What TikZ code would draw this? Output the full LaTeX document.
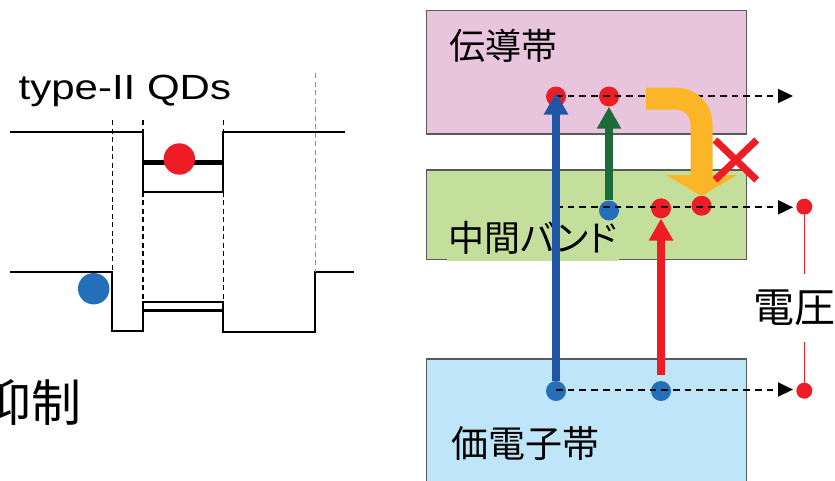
\documentclass[tikz,border=0pt]{standalone}
\usepackage{fontspec}
\setmainfont{Liberation Sans}
\newfontfamily\jp{Noto Sans CJK JP}
\newfontfamily\jpp[RawFeature=+palt]{Noto Sans CJK JP}
\usetikzlibrary{arrows.meta}
\definecolor{cbpink}{HTML}{E8C5DD}
\definecolor{ibgreen}{HTML}{C4DF9B}
\definecolor{vbblue}{HTML}{BEE6F8}
\definecolor{myred}{HTML}{EE1C25}
\definecolor{dotblue}{HTML}{2370B8}
\definecolor{arrblue}{HTML}{1F56A5}
\definecolor{arrgreen}{HTML}{1D6B38}
\definecolor{myorange}{HTML}{FBB526}
\definecolor{boxedge}{HTML}{5A5A5A}
\tikzset{
  bandline/.style={line width=2pt, line join=miter},
  guide/.style={line width=1.2pt, dash pattern=on 5pt off 3.5pt},
  bandbox/.style={draw=boxedge, line width=1.3pt, inner sep=0pt, anchor=north west, minimum width=320.3pt},
  ball/.style={circle, inner sep=0pt, minimum size=20pt},
  smallball/.style={circle, inner sep=0pt, minimum size=16pt, fill=myred},
  levelline/.style={dash pattern=on 6.7pt off 5pt, line width=2pt, -{Triangle[length=15pt,width=14pt]}},
  excite/.style={line width=7.5pt, -{Triangle[length=22pt,width=23pt]}},
  txt/.style={inner sep=0pt, anchor=base west},
}
\begin{document}
\begin{tikzpicture}[x=1pt,y=-1pt]
\useasboundingbox (0,0) rectangle (835,480);
\clip (0,0) rectangle (835,480);
\fill[white] (0,0) rectangle (835,480);

% ---------- left: type-II QD band diagram ----------
\node[txt, font=\fontsize{35}{35}\selectfont] (title) at (18.5,99.5) {\scalebox{1.2}[1]{type-II QDs}};

\draw[bandline] (10,131.7) -- (143,131.7) -- (143,191.7) -- (223.3,191.7) -- (223.3,131.7) -- (345,131.7);
\draw[line width=5pt] (143,162) -- (223.3,162);
\draw[bandline] (10,271.7) -- (112.3,271.7) -- (112.3,330.5) -- (143,330.5) -- (143,301.7)
   -- (223.3,301.7) -- (223.3,331.5) -- (315,331.5) -- (315,272.3) -- (354,272.3);
\draw[line width=3.5pt] (143,310.7) -- (223.3,310.7);

\draw[guide] (112.3,120) -- (112.3,271.7);
\draw[guide] (143,120) -- (143,131.7);
\draw[guide] (143,191.7) -- (143,301.7);
\draw[guide] (223.3,120) -- (223.3,131.7);
\draw[guide] (223.3,191.7) -- (223.3,301.7);
\draw[guide, black!45, line width=1pt] (315,73) -- (315,272.3);

\node[ball, fill=myred, minimum size=31.4pt] (qde) at (179.3,159) {};
\node[ball, fill=dotblue, minimum size=31.4pt] (qdh) at (93.7,288.7) {};

\node[txt, font=\jp\fontsize{50}{50}\selectfont] (sup) at (-19,421) {抑制};

% ---------- right: intermediate band scheme ----------
\node[bandbox, fill=cbpink, minimum height=123.3pt] (cb) at (425.7,10) {};
\node[bandbox, fill=ibgreen, minimum height=89.7pt] (ib) at (425.7,169.3) {};
\node[bandbox, fill=vbblue, minimum height=140pt] (vb) at (425.7,358.3) {};

\node[txt, font=\jp\fontsize{36}{36}\selectfont] (cbl) at (449.7,59.3) {伝導帯};
\node[txt, font=\jpp\fontsize{36}{36}\selectfont, fill=ibgreen, inner xsep=1.5pt,
      text height=31pt, text depth=10pt] (ibl) at (447,251) {中間バンド};
\node[txt, font=\jp\fontsize{37}{37}\selectfont] (vbl) at (451,457.3) {価電子帯};
\node[txt, font=\jp\fontsize{41}{41}\selectfont, inner ysep=16pt] (volt) at (753,322.7) {電圧};

% dots
\node[ball, fill=myred] (cb1) at (556,96.5) {};
\node[ball, fill=myred] (cb2) at (609,96.5) {};
\node[ball, fill=dotblue] (ib1) at (609,210.5) {};
\node[ball, fill=myred] (ib2) at (661,208.3) {};
\node[ball, fill=myred] (ib3) at (701.5,205.7) {};
\node[smallball] (ibr) at (804.3,206.7) {};
\node[ball, fill=dotblue] (vb1) at (556,391) {};
\node[ball, fill=dotblue] (vb2) at (661,391) {};
\node[smallball] (vbr) at (804.3,390.7) {};

\coordinate (cbend) at (793,96);
\coordinate (ibstart) at (556,207.3);
\coordinate (ibend) at (793,207.3);
\coordinate (vbend) at (793,389.5);

% dashed energy levels
\draw[levelline] (cb1.center |- cbend) -- (cbend);
\draw[levelline] (ibstart) -- (ibend);
\draw[levelline] (vb1.center |- vbend) -- (vbend);

% excitation arrows
\draw[excite, arrblue] (vb1.north) -- ([yshift=4pt]cb1.center);
\draw[excite, arrgreen] (ib1.north) -- (cb2.south);
\draw[excite, myred, shorten <=5.6pt] (vb2.north) -- (ib2.south);

% relaxation arrow (orange)
\coordinate (rs) at (646,98.7);
\coordinate (rc) at (701.5,98.7);
\coordinate (re) at (701.5,196);
\draw[myorange, line width=22pt, rounded corners=25pt, -{Triangle[length=21pt,width=70pt]}]
   (rs) -- (rc) -- (re);

% cross
\draw[myred, line width=7pt] (715,140) -- (756.7,180) (756.7,140) -- (715,180);

% voltage line
\draw[myred, line width=1.5pt] (ibr) -- (ibr |- volt.north);
\draw[myred, line width=1.5pt] (ibr |- volt.south) -- (vbr);
\end{tikzpicture}
\end{document}
